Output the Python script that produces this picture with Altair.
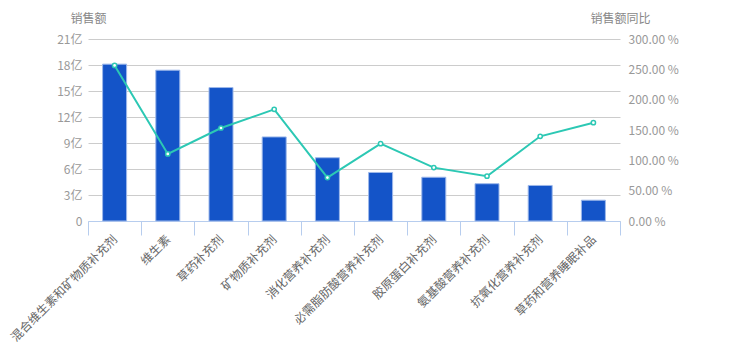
import altair as alt
import pandas as pd

categories = ["混合维生素和矿物质补充剂", "维生素", "草药补充剂", "矿物质补充剂", "消化营养补充剂",
              "必需脂肪酸营养补充剂", "胶原蛋白补充剂", "氨基酸营养补充剂", "抗氧化营养补充剂", "草药和营养睡眠补品"]
sales = [18.1, 17.4, 15.4, 9.7, 7.3, 5.6, 5.05, 4.3, 4.1, 2.4]
yoy = [256.5, 110.5, 153.3, 184.0, 71.5, 127.5, 88.0, 73.8, 139.6, 162.0]

df = pd.DataFrame({"cat": categories, "sales": sales, "yoy": yoy})

FONT = "Noto Sans CJK SC"
LABEL = "#999999"

x = alt.X("cat:N", sort=categories,
          scale=alt.Scale(paddingInner=0, paddingOuter=0),
          axis=alt.Axis(title=None, labelAngle=315, labelAlign="right", labelBaseline="middle",
                        labelPadding=2, labelFontSize=12, labelColor="#666", labelFont=FONT,
                        tickBand="extent", tickColor="#b7cdee", tickSize=14,
                        domainColor="#b7cdee", grid=False))

bars = alt.Chart(df).mark_bar(size=24, color="#1454c8", stroke="#9db8ea", strokeWidth=1).encode(
    x=x,
    y=alt.Y("sales:Q", scale=alt.Scale(domain=[0, 21], nice=False),
            axis=alt.Axis(values=[0, 3, 6, 9, 12, 15, 18, 21], title="销售额",
                          labelExpr="datum.value == 0 ? '0' : datum.value + '亿'",
                          titleAngle=0, titleX=0, titleY=-21, titleAlign="center",
                          titleBaseline="middle", titleColor="#888", titleFontWeight="normal",
                          titleFontSize=12, titleFont=FONT,
                          labelColor=LABEL, labelFontSize=12, labelFont=FONT, labelPadding=6,
                          domain=False, ticks=False, grid=True, gridColor="#cccccc")),
)

y_right = alt.Y("yoy:Q", scale=alt.Scale(domain=[0, 300], nice=False),
                axis=alt.Axis(values=[0, 50, 100, 150, 200, 250, 300], title="销售额同比",
                              orient="right",
                              labelExpr="format(datum.value, '.2f') + ' %'",
                              titleAngle=0, titleX=0, titleY=-21, titleAlign="center",
                              titleBaseline="middle", titleColor="#888", titleFontWeight="normal",
                              titleFontSize=12, titleFont=FONT,
                              labelColor=LABEL, labelFontSize=12, labelFont=FONT, labelPadding=8,
                              domain=False, ticks=False, grid=False))

line = alt.Chart(df).mark_line(color="#2cc8b4", strokeWidth=2).encode(
    x=alt.X("cat:N", sort=categories),
    y=y_right,
)

pts = alt.Chart(df).mark_point(filled=True, fill="white", stroke="#2cc8b4", strokeWidth=1.5,
                               size=18, opacity=1, shape="circle").encode(
    x=alt.X("cat:N", sort=categories),
    y=y_right,
)

right = alt.layer(line, pts)

chart = alt.layer(bars, right).resolve_scale(y="independent").properties(
    width=532, height=182,
    background="white",
    autosize=alt.AutoSizeParams(type="none"),
    padding={"left": 80, "top": 31, "right": 109, "bottom": 130},
).configure_view(stroke=None)

chart.save("out.html", embed_options={"renderer": "svg", "actions": False})
